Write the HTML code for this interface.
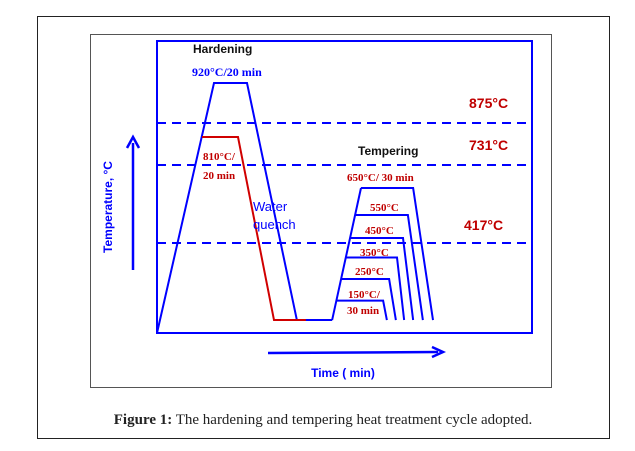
<!DOCTYPE html>
<html><head><meta charset="utf-8"><style>
body{margin:0;background:#fff;}
svg{display:block;}
.r{fill:#c00000;font-family:"Liberation Serif",serif;font-weight:bold;font-size:11px;}
.big{fill:#c00000;font-family:"Liberation Sans",sans-serif;font-weight:bold;font-size:14px;}
</style></head><body>
<svg id="c" width="635" height="451" viewBox="0 0 635 451">
<rect x="37.5" y="16.5" width="572" height="422" fill="none" stroke="#222"/>
<rect x="90.5" y="34.5" width="461" height="353" fill="none" stroke="#555"/>
<rect x="157" y="41" width="375" height="292" fill="none" stroke="#0000ff" stroke-width="2"/>
<g id="marks"></g>
<text x="193" y="53" font-family="Liberation Sans,sans-serif" font-weight="bold" font-size="12" fill="#111">Hardening</text>
<text x="192" y="76" font-family="Liberation Serif,serif" font-weight="bold" font-size="12" fill="#0000ff">920°C/20 min</text>
<text x="358" y="155" font-family="Liberation Sans,sans-serif" font-weight="bold" font-size="12" fill="#111">Tempering</text>
<text x="203" y="160" class="r" font-size="12">810°C/</text>
<text x="203" y="179" class="r" font-size="12">20 min</text>
<text x="253" y="211" font-family="Liberation Sans,sans-serif" font-size="13" fill="#0000ff">Water</text>
<text x="253" y="229" font-family="Liberation Sans,sans-serif" font-size="13" fill="#0000ff">quench</text>
<text x="347" y="181" class="r">650°C/ 30 min</text>
<text x="370" y="211" class="r">550°C</text>
<text x="365" y="234" class="r">450°C</text>
<text x="360" y="256" class="r">350°C</text>
<text x="355" y="275" class="r">250°C</text>
<text x="348" y="298" class="r">150°C/</text>
<text x="347" y="314" class="r">30 min</text>
<text x="469" y="108" class="big">875°C</text>
<text x="469" y="150" class="big">731°C</text>
<text x="464" y="230" class="big">417°C</text>
<line x1="133" y1="270" x2="133" y2="143" stroke="#0000ff" stroke-width="2.5"/>
<path d="M127,148 L133,137 L139,148" fill="none" stroke="#0000ff" stroke-width="2.5"/>
<text transform="translate(112,207) rotate(-90)" text-anchor="middle" font-family="Liberation Sans,sans-serif" font-weight="bold" font-size="12" fill="#0000ff">Temperature, °C</text>
<line x1="268" y1="353" x2="438" y2="352" stroke="#0000ff" stroke-width="2.5"/>
<path d="M432,347 L443,352 L432,357" fill="none" stroke="#0000ff" stroke-width="2.5"/>
<text x="343" y="377" text-anchor="middle" font-family="Liberation Sans,sans-serif" font-weight="bold" font-size="12" fill="#0000ff">Time ( min)</text>
<text x="323" y="424" text-anchor="middle" font-family="Liberation Serif,serif" font-size="15" fill="#222"><tspan font-weight="bold">Figure 1:</tspan> The hardening and tempering heat treatment cycle adopted.</text>
</svg>
<script>
// temperature knots (schematic, non-linear axis) and pixel levels
const tempKnots=[0,417,450,550,650,731,810,875,920];
const pixKnots=[333,243,238,215,188,165,137,123,83];
const criticalTemps=[875,731,417];
// hardening cycle (blue): time, temperature
const hardenTime=[0,15.2,24,37.3,46.7];
const hardenTemp=[0,920,920,60,60];
// intercritical cycle (red)
const interTime=[12,21.6,31.2,39.7];
const interTemp=[810,810,60,60];
// tempering ramp
const rampTime=[46.7,54.4];
const rampTemp=[60,650];
// tempering plateaus
const temperTemps=[650,550,450,350,250,150];
const temperEnd=[68.3,66.9,65.6,64,61.9,60.3];
const temperFall=[73.6,70.9,68.3,65.9,63.7,61.3];
const floorTemp=60;

function y(T){for(let i=0;i<tempKnots.length-1;i++){if(T<=tempKnots[i+1]||i==tempKnots.length-2){const a=tempKnots[i],b=tempKnots[i+1];return pixKnots[i]+(T-a)/(b-a)*(pixKnots[i+1]-pixKnots[i]);}}}
function x(t){return 157+t*3.75;}
const NS='http://www.w3.org/2000/svg';
const g=document.getElementById('marks');
function poly(ts,Ts,col,name){const p=document.createElementNS(NS,'polyline');
p.setAttribute('points',ts.map((t,i)=>x(t)+','+y(Ts[i])).join(' '));
p.setAttribute('fill','none');p.setAttribute('stroke',col);p.setAttribute('stroke-width','2');


g.appendChild(p);}
criticalTemps.forEach((T,i)=>{const l=document.createElementNS(NS,'line');
l.setAttribute('x1',157);l.setAttribute('x2',532);l.setAttribute('y1',y(T));l.setAttribute('y2',y(T));
l.setAttribute('stroke','#0000ff');l.setAttribute('stroke-width','2');l.setAttribute('stroke-dasharray','9,6');


g.appendChild(l);});
poly(hardenTime,hardenTemp,'#0000ff','hardening-cycle');
poly(interTime,interTemp,'#d00000','intercritical-cycle');
// ramp drawn in pixel space as straight line
const r0=[x(rampTime[0]),y(rampTemp[0])], r1=[x(rampTime[1]),y(rampTemp[1])];
const ramp=document.createElementNS(NS,'line');
ramp.setAttribute('x1',r0[0]);ramp.setAttribute('y1',r0[1]);ramp.setAttribute('x2',r1[0]);ramp.setAttribute('y2',r1[1]);
ramp.setAttribute('stroke','#0000ff');ramp.setAttribute('stroke-width','2');


g.appendChild(ramp);
temperTemps.forEach((T,i)=>{
 const py=y(T);
 const px=r0[0]+(py-r0[1])/(r1[1]-r0[1])*(r1[0]-r0[0]);
 const pts=[[px,py],[x(temperEnd[i]),py],[x(temperFall[i]),y(floorTemp)]];
 const p=document.createElementNS(NS,'polyline');
 p.setAttribute('points',pts.map(q=>q[0]+','+q[1]).join(' '));
 p.setAttribute('fill','none');p.setAttribute('stroke','#0000ff');p.setAttribute('stroke-width','2');
 
 
 g.appendChild(p);});
</script>
</body></html>
